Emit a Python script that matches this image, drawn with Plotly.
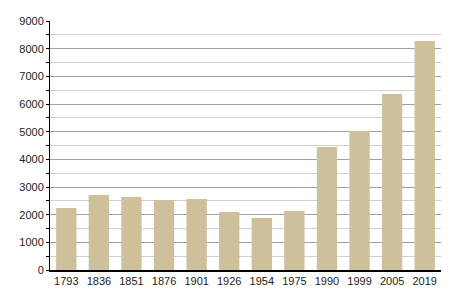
import plotly.graph_objects as go

years = ["1793", "1836", "1851", "1876", "1901", "1926", "1954", "1975", "1990", "1999", "2005", "2019"]
population = [2241, 2711, 2638, 2530, 2566, 2096, 1879, 2132, 4445, 5023, 6361, 8276]

fig = go.Figure(go.Bar(x=years, y=population, marker=dict(color="#cdc09a", line=dict(width=0))))

fig.update_layout(
    width=450, height=300,
    margin=dict(l=50, r=9, t=21, b=30),
    plot_bgcolor="white", paper_bgcolor="white",
    bargap=0.375,
    showlegend=False,
    font=dict(family="Liberation Sans, Arial, sans-serif", size=11, color="#222"),
)
fig.update_xaxes(
    type="category", showline=True, linecolor="black", linewidth=1.5,
    ticks="", showgrid=False, tickfont=dict(size=11),
)
fig.update_yaxes(
    range=[0, 9000], dtick=1000, showline=True, linecolor="black", linewidth=1,
    ticks="outside", ticklen=3, tickcolor="black",
    showgrid=True, gridcolor="#a0a0a0", gridwidth=1,
    zeroline=False,
    minor=dict(dtick=500, showgrid=True, gridcolor="#d0d0d0", ticks="outside", ticklen=3, tickcolor="black"),
    tickfont=dict(size=11),
)

fig.write_html("out.html")
